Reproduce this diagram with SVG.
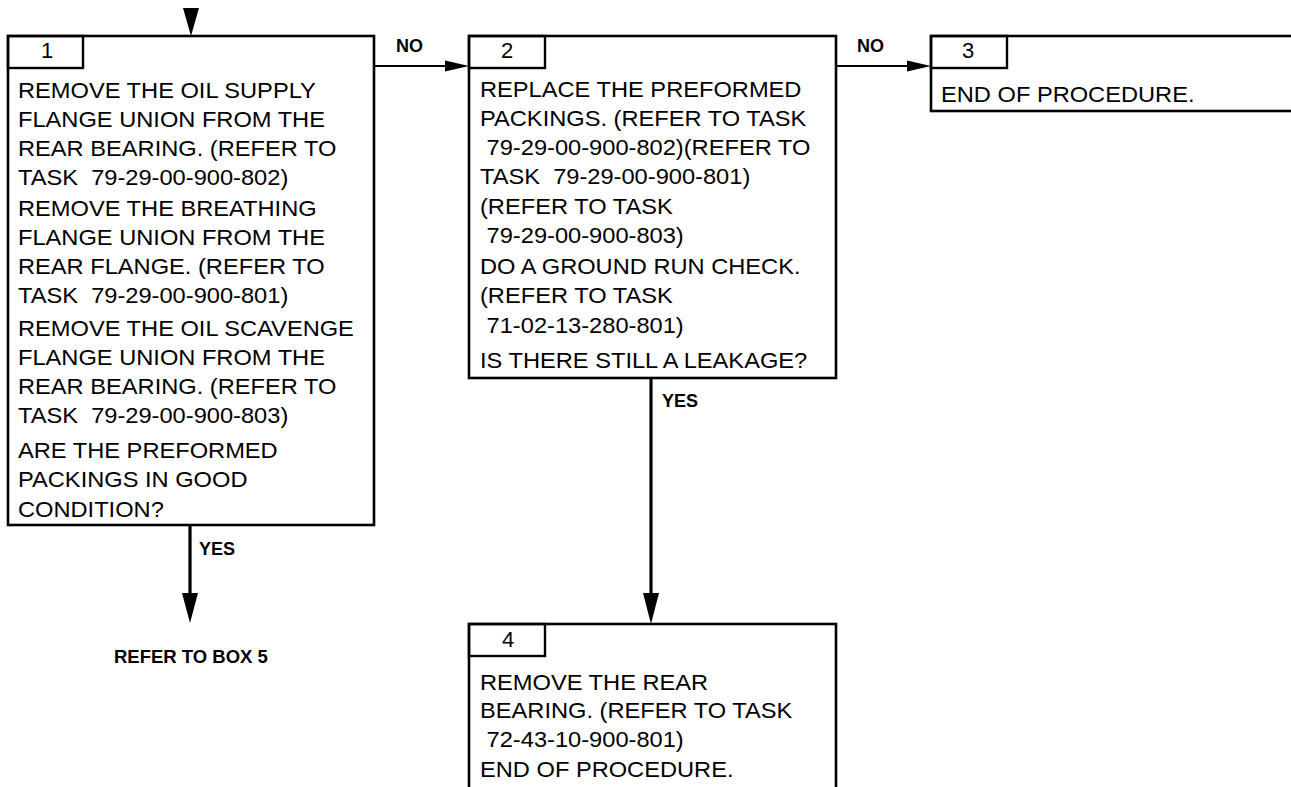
<svg xmlns="http://www.w3.org/2000/svg" width="1291" height="787" viewBox="0 0 1291 787">
<style>
.box{fill:#fff;stroke:#000;stroke-width:2.6}
.tab{fill:none;stroke:#000;stroke-width:2.4}
.t{font-family:"Liberation Sans",Arial,sans-serif;font-size:21.5px;fill:#000;white-space:pre}
.n{font-family:"Liberation Sans",Arial,sans-serif;font-size:22px;fill:#000;text-anchor:middle}
.lb{font-family:"Liberation Sans",Arial,sans-serif;font-size:18px;font-weight:bold;fill:#000}
.thin{stroke:#000;stroke-width:1.8;fill:none}
.thick{stroke:#000;stroke-width:3.2;fill:none}
.ah{fill:#000}
</style>
<rect width="1291" height="787" fill="#fff"/>
<g id="connectors">
<polygon class="ah" points="183,8 199,8 191,36"/>
<line class="thin" x1="374" y1="66" x2="447" y2="66"/>
<polygon class="ah" points="445,60.5 469,66 445,71.5"/>
<line class="thin" x1="836" y1="66" x2="909" y2="66"/>
<polygon class="ah" points="907,60.5 931,66 907,71.5"/>
<line class="thick" x1="190" y1="525" x2="190" y2="595"/>
<polygon class="ah" points="182,593 198,593 190,623"/>
<line class="thick" x1="651" y1="378" x2="651" y2="596"/>
<polygon class="ah" points="643,593 659,593 651,624"/>
<text class="lb" x="396" y="52">NO</text>
<text class="lb" x="857" y="52">NO</text>
<text class="lb" x="199" y="555">YES</text>
<text class="lb" x="662" y="407">YES</text>
</g>
<g id="box1">
<rect class="box" x="8" y="36" width="366" height="489"/>
<rect class="tab" x="8" y="36" width="75" height="32"/>
<text class="n" x="47" y="58">1</text>
<g transform="translate(18,0) scale(1.1,1)">
<text class="t" xml:space="preserve">
<tspan x="0" y="98">REMOVE THE OIL SUPPLY</tspan>
<tspan x="0" y="127">FLANGE UNION FROM THE</tspan>
<tspan x="0" y="156">REAR BEARING. (REFER TO</tspan>
<tspan x="0" y="185">TASK  79-29-00-900-802)</tspan>
<tspan x="0" y="216">REMOVE THE BREATHING</tspan>
<tspan x="0" y="245">FLANGE UNION FROM THE</tspan>
<tspan x="0" y="274">REAR FLANGE. (REFER TO</tspan>
<tspan x="0" y="303">TASK  79-29-00-900-801)</tspan>
<tspan x="0" y="336">REMOVE THE OIL SCAVENGE</tspan>
<tspan x="0" y="365">FLANGE UNION FROM THE</tspan>
<tspan x="0" y="394">REAR BEARING. (REFER TO</tspan>
<tspan x="0" y="423">TASK  79-29-00-900-803)</tspan>
<tspan x="0" y="458">ARE THE PREFORMED</tspan>
<tspan x="0" y="487">PACKINGS IN GOOD</tspan>
<tspan x="0" y="517">CONDITION?</tspan>
</text>
</g>
</g>
<g id="box2">
<rect class="box" x="469" y="36" width="367" height="342"/>
<rect class="tab" x="469" y="36" width="76" height="32"/>
<text class="n" x="507" y="58">2</text>
<g transform="translate(480,0) scale(1.1,1)">
<text class="t" xml:space="preserve">
<tspan x="0" y="97">REPLACE THE PREFORMED</tspan>
<tspan x="0" y="126">PACKINGS. (REFER TO TASK</tspan>
<tspan x="0" y="155"> 79-29-00-900-802)(REFER TO</tspan>
<tspan x="0" y="184">TASK  79-29-00-900-801)</tspan>
<tspan x="0" y="214">(REFER TO TASK</tspan>
<tspan x="0" y="243"> 79-29-00-900-803)</tspan>
<tspan x="0" y="274">DO A GROUND RUN CHECK.</tspan>
<tspan x="0" y="303">(REFER TO TASK</tspan>
<tspan x="0" y="333"> 71-02-13-280-801)</tspan>
<tspan x="0" y="368">IS THERE STILL A LEAKAGE?</tspan>
</text>
</g>
</g>
<g id="box3">
<rect class="box" x="931" y="36" width="380" height="75"/>
<rect class="tab" x="931" y="36" width="76" height="32"/>
<text class="n" x="968" y="58">3</text>
<g transform="translate(941,0) scale(1.1,1)">
<text class="t" x="0" y="102">END OF PROCEDURE.</text>
</g>
</g>
<g id="box4">
<rect class="box" x="469" y="624" width="367" height="200"/>
<rect class="tab" x="469" y="624" width="76" height="32"/>
<text class="n" x="508" y="647">4</text>
<g transform="translate(480,0) scale(1.1,1)">
<text class="t" xml:space="preserve">
<tspan x="0" y="690">REMOVE THE REAR</tspan>
<tspan x="0" y="718">BEARING. (REFER TO TASK</tspan>
<tspan x="0" y="747"> 72-43-10-900-801)</tspan>
<tspan x="0" y="777">END OF PROCEDURE.</tspan>
</text>
</g>
</g>
<g id="refer5">
<text class="lb" x="114" y="663" style="font-size:18.5px">REFER TO BOX 5</text>
</g>
</svg>
